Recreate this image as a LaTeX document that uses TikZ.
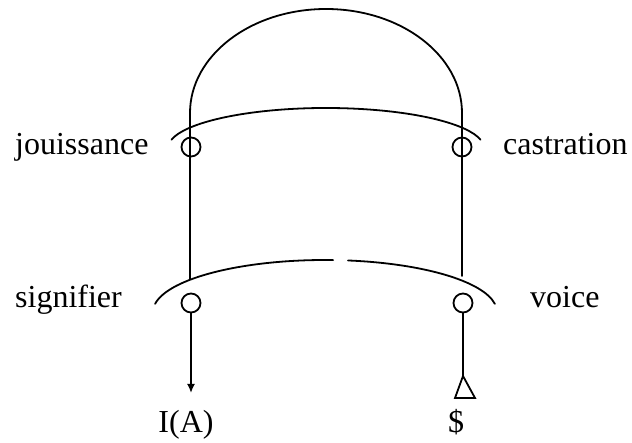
\documentclass[tikz,border=0pt]{standalone}
\usepackage{fontspec}
\setmainfont{Liberation Serif}
\usetikzlibrary{arrows.meta}
\begin{document}
\begin{tikzpicture}[x=1pt,y=-1pt,
  ln/.style={line width=1.8pt,line cap=round},
  ring/.style={circle,draw,line width=1.8pt,minimum size=19pt,inner sep=0pt},
  lbl/.style={inner sep=0pt,anchor=base west,font=\fontsize{32}{38}\selectfont},
  clbl/.style={inner sep=0pt,anchor=base,font=\fontsize{32}{38}\selectfont}]
\useasboundingbox (0,0) rectangle (632,443);
% circles
\node[ring] (ul) at (191,147) {};
\node[ring] (ur) at (462,147) {};
\node[ring] (ll) at (191,303) {};
\node[ring] (lr) at (463,303) {};
% labels
\node[lbl] (jou) at (15,155) {jouissance};
\node[lbl] (cas) at (503,155) {castration};
\node[lbl] (sig) at (15,308) {signifier};
\node[lbl] (voi) at (530,308) {voice};
\node[clbl] (IA) at (186,433) {I(A)};
\node[clbl] (S) at (456,433) {\$};
% coordinates
\coordinate (lbot) at (190,279);
\coordinate (rbot) at (462,276);
\coordinate (atip) at (191,393);
\coordinate (tapex) at (463,376);
% upper arc
\draw[ln] (326,148) ++(-168:158 and 40) arc[start angle=-168,end angle=-12,x radius=158,y radius=40];
% lower arc with gap
\draw[ln] (325,312) ++(-171:172 and 52) arc[start angle=-171,end angle=-87.3,x radius=172,y radius=52];
\draw[ln] (325,312) ++(-82.3:172 and 52) arc[start angle=-82.3,end angle=-9,x radius=172,y radius=52];
% dome with verticals through upper circles
\draw[ln] (lbot) -- (190,113) arc[start angle=180,end angle=360,x radius=136,y radius=104] -- (rbot);
% bottom connectors
\draw[ln,-{Latex[length=9pt,width=8pt]}] (ll.south) -- (atip);
\draw[ln] (lr.south) -- (tapex);
\draw[line width=1.8pt,line join=miter] (tapex) -- (475,398) -- (455,398) -- cycle;
\end{tikzpicture}
\end{document}
